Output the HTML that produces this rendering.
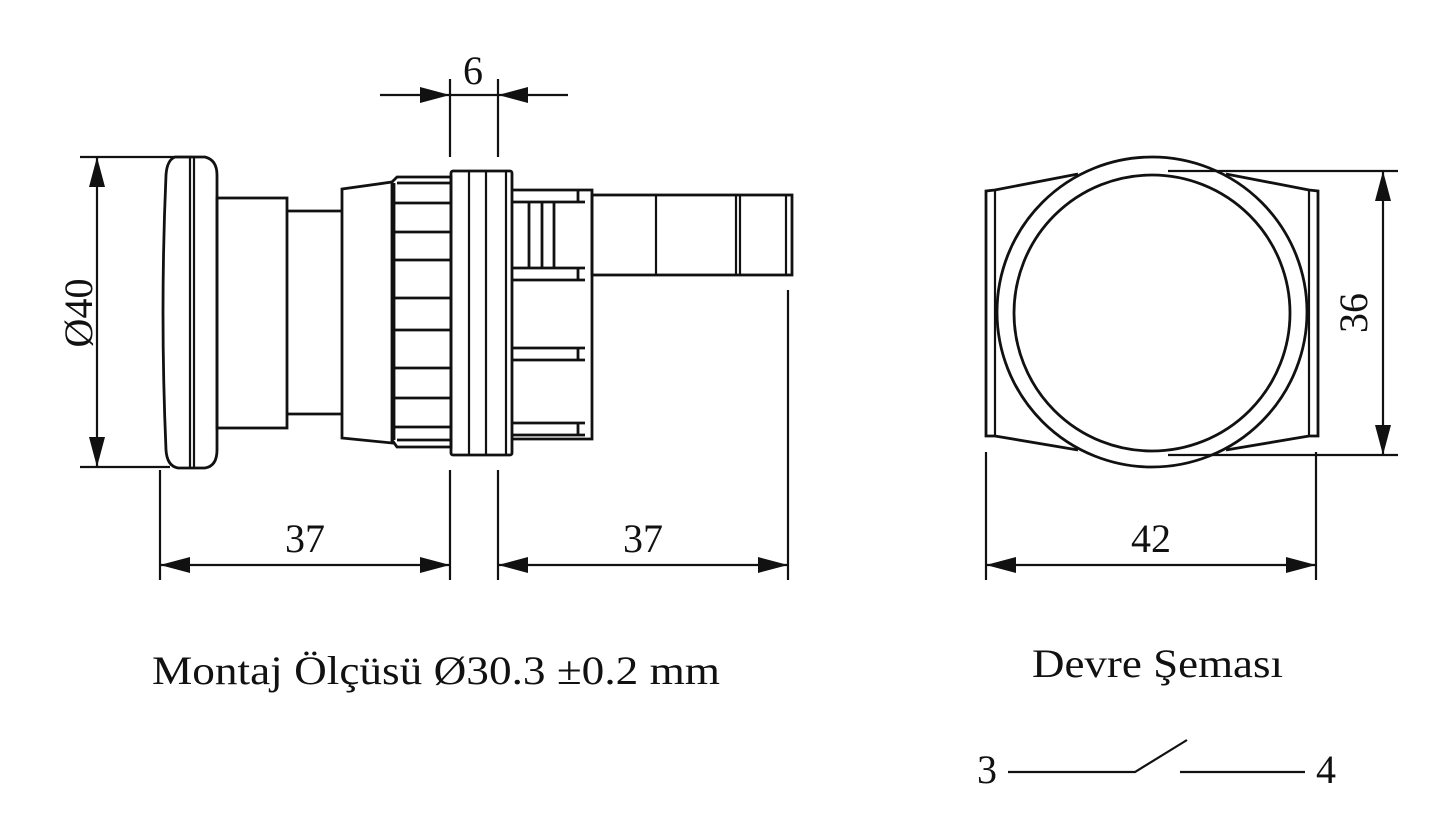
<!DOCTYPE html>
<html><head><meta charset="utf-8"><style>
html,body{margin:0;padding:0;background:#fff}
svg{display:block}
text{font-family:"Liberation Serif",serif;fill:#111}
</style></head><body>
<svg width="1450" height="836" viewBox="0 0 1450 836" xmlns="http://www.w3.org/2000/svg">
<defs>
<marker id="a" viewBox="0 0 30 16" refX="30" refY="8" markerWidth="30" markerHeight="16" markerUnits="userSpaceOnUse" orient="auto">
<path d="M0,0 L30,8 L0,16 Z" fill="#111"/></marker>
</defs>
<g stroke="#111" stroke-width="2.2" fill="none">
<line x1="80" y1="157" x2="192" y2="157"/>
<line x1="80" y1="467" x2="170" y2="467"/>
<line x1="97" y1="312" x2="97" y2="157" marker-end="url(#a)"/>
<line x1="97" y1="312" x2="97" y2="467" marker-end="url(#a)"/>
<line x1="450" y1="79" x2="450" y2="157"/>
<line x1="498" y1="79" x2="498" y2="157"/>
<line x1="380" y1="95" x2="450" y2="95" marker-end="url(#a)"/>
<line x1="568" y1="95" x2="498" y2="95" marker-end="url(#a)"/>
<line x1="450" y1="95" x2="498" y2="95"/>
<line x1="160" y1="470" x2="160" y2="580"/>
<line x1="450" y1="470" x2="450" y2="580"/>
<line x1="498" y1="470" x2="498" y2="580"/>
<line x1="788" y1="290" x2="788" y2="580"/>
<line x1="305" y1="565" x2="160" y2="565" marker-end="url(#a)"/>
<line x1="305" y1="565" x2="450" y2="565" marker-end="url(#a)"/>
<line x1="643" y1="565" x2="498" y2="565" marker-end="url(#a)"/>
<line x1="643" y1="565" x2="788" y2="565" marker-end="url(#a)"/>
<path d="M175,157 L205,157 Q217,160 217,175 L217,450 Q217,466 205,468 L178,468 Q167,466 166,450 Q160,312 166,175 Q167,160 175,157 Z" stroke-width="2.8"/>
<line x1="190" y1="158" x2="190" y2="467"/>
<line x1="194" y1="158" x2="194" y2="467"/>
<rect x="217" y="198" width="70" height="230" stroke-width="2.8"/>
<line x1="287" y1="211" x2="342" y2="211" stroke-width="2.8"/>
<line x1="287" y1="414" x2="342" y2="414" stroke-width="2.8"/>
<path d="M342,189 L392,182 L392,443 L342,438 Z" stroke-width="2.8"/>
<path d="M392,182 L397,177 L451,177 L451,447 L397,447 L392,440" stroke-width="2.8"/>
<g stroke-width="2.8">
<line x1="397" y1="183" x2="451" y2="183"/><line x1="394" y1="203" x2="451" y2="203"/>
<line x1="394" y1="232" x2="451" y2="232"/><line x1="394" y1="260" x2="451" y2="260"/>
<line x1="394" y1="298" x2="451" y2="298"/><line x1="394" y1="330" x2="451" y2="330"/>
<line x1="394" y1="368" x2="451" y2="368"/><line x1="394" y1="398" x2="451" y2="398"/>
<line x1="394" y1="427" x2="451" y2="427"/><line x1="397" y1="440" x2="451" y2="440"/>
<line x1="394" y1="183" x2="394" y2="440"/>
</g>
<rect x="451" y="171" width="61" height="284" rx="2" stroke-width="2.8"/>
<line x1="469" y1="171" x2="469" y2="455"/>
<line x1="486" y1="171" x2="486" y2="455"/>
<line x1="506" y1="171" x2="506" y2="455"/>
<path d="M512,190 L592,190 L592,439 L512,439" stroke-width="2.8"/>
<g stroke-width="2.8">
<line x1="512" y1="202" x2="585" y2="202"/><line x1="512" y1="268" x2="585" y2="268"/>
<line x1="512" y1="280" x2="585" y2="280"/><line x1="512" y1="348" x2="585" y2="348"/>
<line x1="512" y1="360" x2="585" y2="360"/><line x1="512" y1="423" x2="585" y2="423"/>
<line x1="512" y1="435" x2="585" y2="435"/>
<line x1="529" y1="202" x2="529" y2="268"/><line x1="542" y1="202" x2="542" y2="268"/><line x1="554" y1="202" x2="554" y2="268"/>
<line x1="578" y1="190" x2="578" y2="202"/><line x1="578" y1="268" x2="578" y2="280"/>
<line x1="578" y1="348" x2="578" y2="360"/><line x1="578" y1="423" x2="578" y2="435"/>
</g>
<rect x="592" y="195" width="200" height="80" stroke-width="2.8"/>
<line x1="656" y1="195" x2="656" y2="275"/>
<line x1="736" y1="195" x2="736" y2="275"/>
<line x1="740" y1="195" x2="740" y2="275"/>
<line x1="786" y1="195" x2="786" y2="275"/>
<circle cx="1152" cy="312" r="155" stroke-width="2.8"/>
<circle cx="1152" cy="313" r="138" stroke-width="2.8"/>
<path d="M1078,174 L995,190 L986,191 L986,436 L995,436 L1078,450" stroke-width="2.8"/>
<path d="M1226,174 L1309,190 L1318,191 L1318,436 L1309,436 L1226,450" stroke-width="2.8"/>
<line x1="995" y1="190" x2="995" y2="436"/>
<line x1="1309" y1="190" x2="1309" y2="436"/>
<line x1="1168" y1="171" x2="1398" y2="171"/>
<line x1="1168" y1="455" x2="1398" y2="455"/>
<line x1="1383" y1="313" x2="1383" y2="171" marker-end="url(#a)"/>
<line x1="1383" y1="313" x2="1383" y2="455" marker-end="url(#a)"/>
<line x1="986" y1="452" x2="986" y2="580"/>
<line x1="1316" y1="452" x2="1316" y2="580"/>
<line x1="1151" y1="565" x2="986" y2="565" marker-end="url(#a)"/>
<line x1="1151" y1="565" x2="1316" y2="565" marker-end="url(#a)"/>
<polyline points="1008,772 1135,772 1187,740"/>
<line x1="1180" y1="772" x2="1305" y2="772"/>
</g>
<g font-size="40">
<text x="473" y="84" text-anchor="middle">6</text>
<text x="305" y="552" text-anchor="middle">37</text>
<text x="643" y="552" text-anchor="middle">37</text>
<text x="1151" y="552" text-anchor="middle">42</text>
<text transform="translate(92,313) rotate(-90)" text-anchor="middle">Ø40</text>
<text transform="translate(1367,313) rotate(-90)" text-anchor="middle">36</text>
<text x="152" y="684" textLength="568" lengthAdjust="spacingAndGlyphs">Montaj Ölçüsü Ø30.3 ±0.2 mm</text>
<text x="1032" y="677" textLength="251" lengthAdjust="spacingAndGlyphs">Devre Şeması</text>
<text x="977" y="783">3</text>
<text x="1316" y="783">4</text>
</g>
</svg>
</body></html>
